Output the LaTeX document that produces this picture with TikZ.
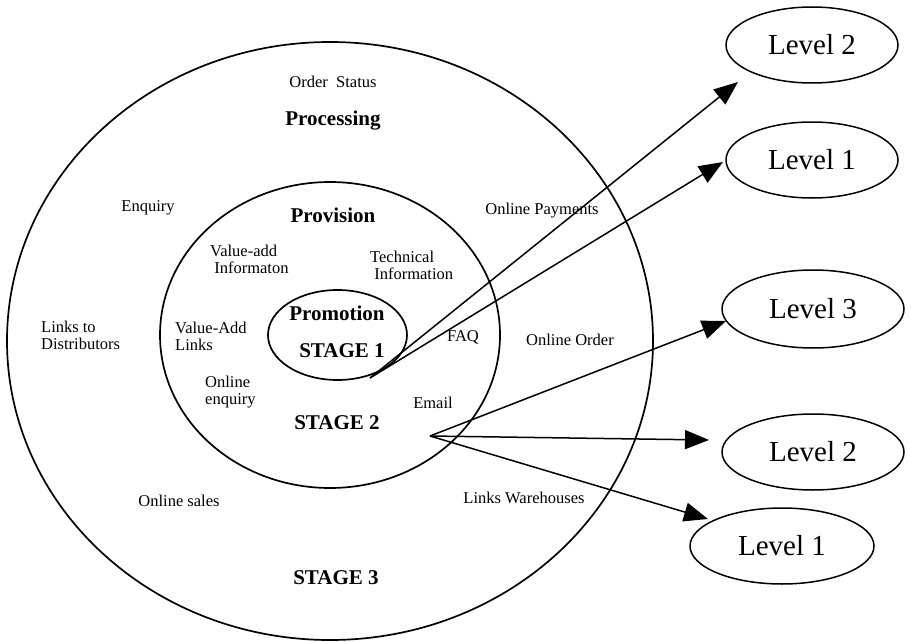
\documentclass[tikz,border=0pt]{standalone}
\usepackage{fontspec}
\setmainfont{Liberation Serif}
\usetikzlibrary{shapes.geometric,arrows.meta}
\begin{document}
\begin{tikzpicture}[x=1pt,y=-1pt,
  ring/.style={draw, ellipse, line width=1.7pt, inner sep=0pt},
  lvl/.style={draw, ellipse, line width=1.5pt, inner sep=0pt, font=\fontsize{29}{30}\selectfont},
  lbl/.style={font=\fontsize{16.5}{17}\selectfont, inner sep=0pt, align=left},
  hd/.style={font=\fontsize{21}{23}\selectfont\bfseries, inner sep=0pt},
  arr/.style={line width=1.5pt, -{Triangle[length=24pt,width=19pt]}}]
\fill[white] (0,0) rectangle (911,642);
\useasboundingbox (0,0) rectangle (911,642);

% concentric stages
\node[ring, minimum width=646pt, minimum height=598pt] (outer) at (330,341) {};
\node[ring, minimum width=340pt, minimum height=306pt] (middle) at (330,335) {};
\node[ring, minimum width=139pt, minimum height=90pt] (inner) at (337.5,335) {};

% level ellipses
\node[lvl, minimum width=172pt, minimum height=76pt] (L2a) at (812,45) {Level 2};
\node[lvl, minimum width=172pt, minimum height=76pt] (L1a) at (812,160) {Level 1};
\node[lvl, minimum width=182pt, minimum height=78pt] (L3) at (813,309) {Level 3};
\node[lvl, minimum width=182pt, minimum height=76pt] (L2b) at (813,452) {Level 2};
\node[lvl, minimum width=184pt, minimum height=76pt] (L1b) at (782,546) {Level 1};

% labels
\node[lbl] (ordst) at (333,82) {Order\ \ Status};
\node[hd] (proc) at (333,121) {Processing};
\node[lbl] (enq) at (148,208) {Enquiry};
\node[hd] (prov) at (333,215) {Provision};
\node[lbl] (onpay) at (542,211) {Online Payments};
\node[lbl, anchor=west] (vainf) at (210,259) {Value-add\\\ Informaton};
\node[lbl, anchor=west] (techinf) at (370,265) {Technical\\\ Information};
\node[lbl, anchor=west] (ldist) at (41,335) {Links to\\Distributors};
\node[lbl, anchor=west] (valinks) at (175,336) {Value-Add\\Links};
\node[hd] (promo) at (337,313) {Promotion};
\node[hd] (st1) at (342,351) {STAGE 1};
\node[lbl] (faq) at (463,337) {FAQ};
\node[lbl] (onord) at (570,340) {Online Order};
\node[lbl, anchor=west] (onenq) at (205,392) {Online\\enquiry};
\node[lbl] (email) at (433,403) {Email};
\node[hd] (st2) at (337,423) {STAGE 2};
\node[lbl] (onsales) at (179,501) {Online sales};
\node[lbl] (lware) at (524,498) {Links Warehouses};
\node[hd] (st3) at (336,578) {STAGE 3};

% arrows
\coordinate (o1) at (370,378);
\coordinate (o2) at (430,436);
\coordinate (t1) at (738,82);
\coordinate (t2) at (723,162);
\coordinate (t3) at (726,321);
\coordinate (t4) at (709,440);
\coordinate (t5) at (708,519);
\draw[arr] (o1) -- (t1);
\draw[arr] (o1) -- (t2);
\draw[arr] (o2) -- (t3);
\draw[arr] (o2) -- (t4);
\draw[arr] (o2) -- (t5);
\end{tikzpicture}
\end{document}
